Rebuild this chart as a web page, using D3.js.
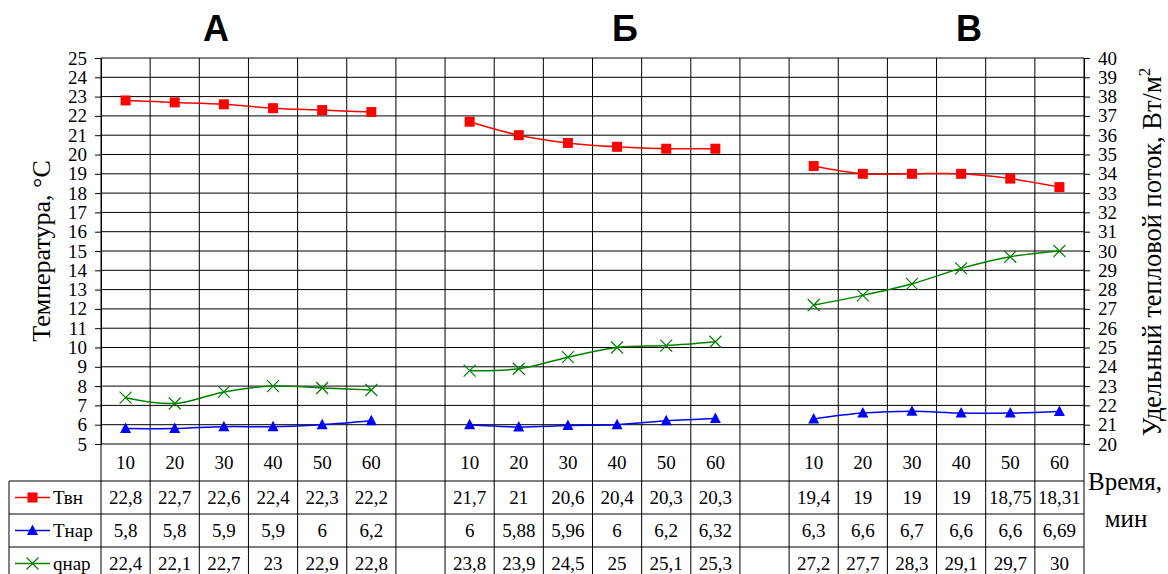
<!DOCTYPE html>
<html>
<head>
<meta charset="utf-8">
<script src="https://cdn.jsdelivr.net/npm/d3@7"></script>
<style>
  html, body { margin: 0; padding: 0; background: #fff; }
  svg { display: block; font-family: "Liberation Serif", "Times New Roman", serif; }
  .group-title { font-family: "Liberation Sans", Arial, sans-serif; font-weight: bold; }
</style>
</head>
<body>
<svg id="chart" width="1168" height="574"></svg>
<script>
// Time points per regime; empty strings separate the three regimes
const categories = ["10","20","30","40","50","60","","10","20","30","40","50","60","","10","20","30","40","50","60"];
const groupTitles = ["А", "Б", "В"];
const seriesNames = ["Твн", "Тнар", "qнар"];

// Inner air temperature, °C (left axis)
const tIn = [22.8,22.7,22.6,22.4,22.3,22.2,null,21.7,21,20.6,20.4,20.3,20.3,null,19.4,19,19,19,18.75,18.31];
// Outer surface temperature, °C (left axis)
const tOut = [5.8,5.8,5.9,5.9,6,6.2,null,6,5.88,5.96,6,6.2,6.32,null,6.3,6.6,6.7,6.6,6.6,6.69];
// Specific heat flux, W/m² (right axis)
const qOut = [22.4,22.1,22.7,23,22.9,22.8,null,23.8,23.9,24.5,25,25.1,25.3,null,27.2,27.7,28.3,29.1,29.7,30];

const leftTicks = d3.range(5, 26);
const rightTicks = d3.range(20, 41);

const svg = d3.select("#chart");
const L = 101, R = 1084, T = 58, B = 444;
const rowH = 33, catRowH = 37, tableLeft = 9;

const x = d3.scaleBand().domain(d3.range(categories.length)).range([L, R]);
const yL = d3.scaleLinear().domain([5, 25]).range([B, T]);
const yR = d3.scaleLinear().domain([20, 40]).range([B, T]);

const fmt = v => v == null ? "" : String(v).replace(".", ",");

// Horizontal gridlines
svg.append("g").selectAll("line").data(leftTicks).join("line")
  .attr("x1", L).attr("x2", R).attr("y1", d => yL(d)).attr("y2", d => yL(d))
  .attr("stroke", "#000").attr("stroke-width", 1);

// Vertical gridlines running through plot and data table
const bounds = d3.range(categories.length + 1).map(i => i < categories.length ? x(i) : R);
svg.append("g").selectAll("line").data(bounds).join("line")
  .attr("x1", d => d).attr("x2", d => d).attr("y1", T).attr("y2", 600)
  .attr("stroke", "#000").attr("stroke-width", 1);

// Axes
const axL = svg.append("g").attr("transform", `translate(${L},0)`)
  .call(d3.axisLeft(yL).tickValues(leftTicks).tickSize(6).tickSizeOuter(0).tickPadding(8));
const axR = svg.append("g").attr("transform", `translate(${R},0)`)
  .call(d3.axisRight(yR).tickValues(rightTicks).tickSize(6).tickSizeOuter(0).tickPadding(8));
[axL, axR].forEach(a => {
  a.attr("font-family", null);
  a.select(".domain").attr("stroke", "#000");
  a.selectAll(".tick line").attr("stroke", "#000");
  a.selectAll(".tick text").attr("font-size", 19).attr("fill", "#000");
});

// Axis titles
svg.append("text")
  .attr("transform", "translate(50,251) rotate(-90)")
  .attr("text-anchor", "middle").attr("font-size", 26)
  .text("Температура, °С");
const rt = svg.append("text")
  .attr("transform", "translate(1161,252) rotate(-90)")
  .attr("text-anchor", "middle").attr("font-size", 26.5);
rt.append("tspan").text("Удельный тепловой поток, Вт/м");
rt.append("tspan").attr("dy", -11).attr("font-size", 17).text("2");

// Group titles
const groupX = [216, 625, 969];
svg.append("g").selectAll("text").data(groupTitles).join("text")
  .attr("class", "group-title")
  .attr("x", (d, i) => groupX[i]).attr("y", 41)
  .attr("text-anchor", "middle").attr("font-size", 36)
  .text(d => d);

// Data table
const rowTop = [B + catRowH, B + catRowH + rowH, B + catRowH + 2 * rowH, B + catRowH + 3 * rowH];
svg.append("g").selectAll("line").data(rowTop).join("line")
  .attr("x1", tableLeft).attr("x2", R).attr("y1", d => d).attr("y2", d => d)
  .attr("stroke", "#000");
svg.append("line").attr("x1", tableLeft).attr("x2", tableLeft)
  .attr("y1", rowTop[0]).attr("y2", 600).attr("stroke", "#000");

svg.append("g").selectAll("text").data(categories).join("text")
  .attr("x", (d, i) => x(i) + x.bandwidth() / 2).attr("y", B + catRowH / 2 + 6)
  .attr("text-anchor", "middle").attr("font-size", 19).text(d => d);

svg.append("text").attr("x", 1125).attr("y", 490).attr("text-anchor", "middle")
  .attr("font-size", 25).text("Время,");
svg.append("text").attr("x", 1126).attr("y", 527).attr("text-anchor", "middle")
  .attr("font-size", 25).text("мин");

const series = [
  { name: seriesNames[0], values: tIn, y: yL, color: "#ff0000", marker: "square" },
  { name: seriesNames[1], values: tOut, y: yL, color: "#0000ff", marker: "triangle" },
  { name: seriesNames[2], values: qOut, y: yR, color: "#008000", marker: "cross" }
];

function drawMarker(g, type, color) {
  if (type === "square") {
    g.append("rect").attr("x", -5).attr("y", -5).attr("width", 10).attr("height", 10).attr("fill", color);
  } else if (type === "triangle") {
    g.append("path").attr("d", "M0,-6L5.5,4.5L-5.5,4.5Z").attr("fill", color);
  } else {
    g.append("path").attr("d", "M-6,-6L6,6M-6,6L6,-6").attr("stroke", color).attr("stroke-width", 1.2).attr("fill", "none");
  }
}

series.forEach((s, si) => {
  const cy = rowTop[si] + rowH / 2;
  // legend key
  svg.append("line").attr("x1", 15).attr("x2", 50).attr("y1", cy).attr("y2", cy)
    .attr("stroke", s.color).attr("stroke-width", 1.5);
  drawMarker(svg.append("g").attr("transform", `translate(32.5,${cy})`), s.marker, s.color);
  svg.append("text").attr("x", 53).attr("y", cy + 6).attr("font-size", 19).text(s.name);
  // table values
  svg.append("g").selectAll("text").data(s.values).join("text")
    .attr("x", (d, i) => x(i) + x.bandwidth() / 2).attr("y", cy + 6)
    .attr("text-anchor", "middle").attr("font-size", 19).text(d => fmt(d));

  // smoothed line with gaps between regimes
  const line = d3.line()
    .defined(d => d != null)
    .x((d, i) => x(i) + x.bandwidth() / 2)
    .y(d => s.y(d))
    .curve(d3.curveCardinal.tension(0));
  svg.append("path").attr("d", line(s.values)).attr("fill", "none")
    .attr("stroke", s.color).attr("stroke-width", 1.5);

  s.values.forEach((v, i) => {
    if (v == null) return;
    drawMarker(svg.append("g").attr("transform", `translate(${x(i) + x.bandwidth() / 2},${s.y(v)})`), s.marker, s.color);
  });
});
</script>
</body>
</html>
